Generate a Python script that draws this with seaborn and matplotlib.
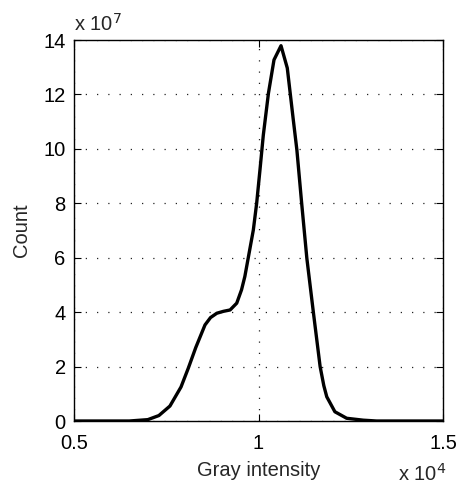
import numpy as np
import pandas as pd
import matplotlib
matplotlib.use("Agg")
import matplotlib.pyplot as plt
import seaborn as sns

# Gray intensity (x 10^4) and count (x 10^7)
intensity = [0.50, 0.60, 0.65, 0.70, 0.73, 0.76, 0.79, 0.81, 0.83, 0.855, 0.87, 0.887,
             0.905, 0.923, 0.941, 0.954, 0.963, 0.972, 0.986, 0.995, 1.004, 1.013,
             1.027, 1.042, 1.061, 1.078, 1.094, 1.104, 1.117, 1.131, 1.149, 1.167,
             1.177, 1.185, 1.207, 1.239, 1.284, 1.32, 1.40, 1.50]
count = [0.0, 0.0, 0.0, 0.05, 0.2, 0.55, 1.25, 1.95, 2.7, 3.53, 3.8, 3.96,
         4.03, 4.08, 4.33, 4.82, 5.31, 5.98, 7.02, 8.0, 9.23, 10.5,
         12.05, 13.27, 13.79, 12.97, 11.1, 9.96, 8.0, 5.98, 3.96, 2.0,
         1.3, 0.89, 0.34, 0.1, 0.03, 0.0, 0.0, 0.0]
xticks = [0.5, 1.0, 1.5]
xticklabels = ["0.5", "1", "1.5"]
yticks = [0, 2, 4, 6, 8, 10, 12, 14]

df = pd.DataFrame({"Gray intensity": intensity, "Count": count})

sns.set_style("ticks")
plt.rcParams["font.family"] = ["Liberation Sans", "DejaVu Sans"]

fig = plt.figure(figsize=(4.65, 4.9), dpi=100)
ax = fig.add_axes([74/465, 69/490, 369/465, 381/490])

sns.lineplot(data=df, x="Gray intensity", y="Count", ax=ax, color="black",
             linewidth=2.4, sort=False)

ax.set_xlim(0.5, 1.5)
ax.set_ylim(0, 14)
ax.set_xticks(xticks)
ax.set_xticklabels(xticklabels)
ax.set_yticks(yticks)
ax.grid(True, color="#222222", linestyle=(0, (1, 8)), linewidth=0.9)
for s in ax.spines.values():
    s.set_visible(True)
    s.set_linewidth(1.0)
    s.set_color("black")
ax.tick_params(direction="in", length=5, width=0.8, labelsize=14.5,
               top=True, right=True, colors="black")
ax.tick_params(axis="x", pad=9)
ax.tick_params(axis="y", pad=6)
ax.set_xlabel("Gray intensity", fontsize=14.5, labelpad=6)
ax.set_ylabel("Count", fontsize=14.5, labelpad=9)

fig.text(74/465, 1 - 24/490, r"x 10$^{7}$", fontsize=14.5, ha="left", va="center")
fig.text(446/465, 1 - 474/490, r"x 10$^{4}$", fontsize=14.5, ha="right", va="center")

fig.savefig("out.png", dpi=100, facecolor="white")
